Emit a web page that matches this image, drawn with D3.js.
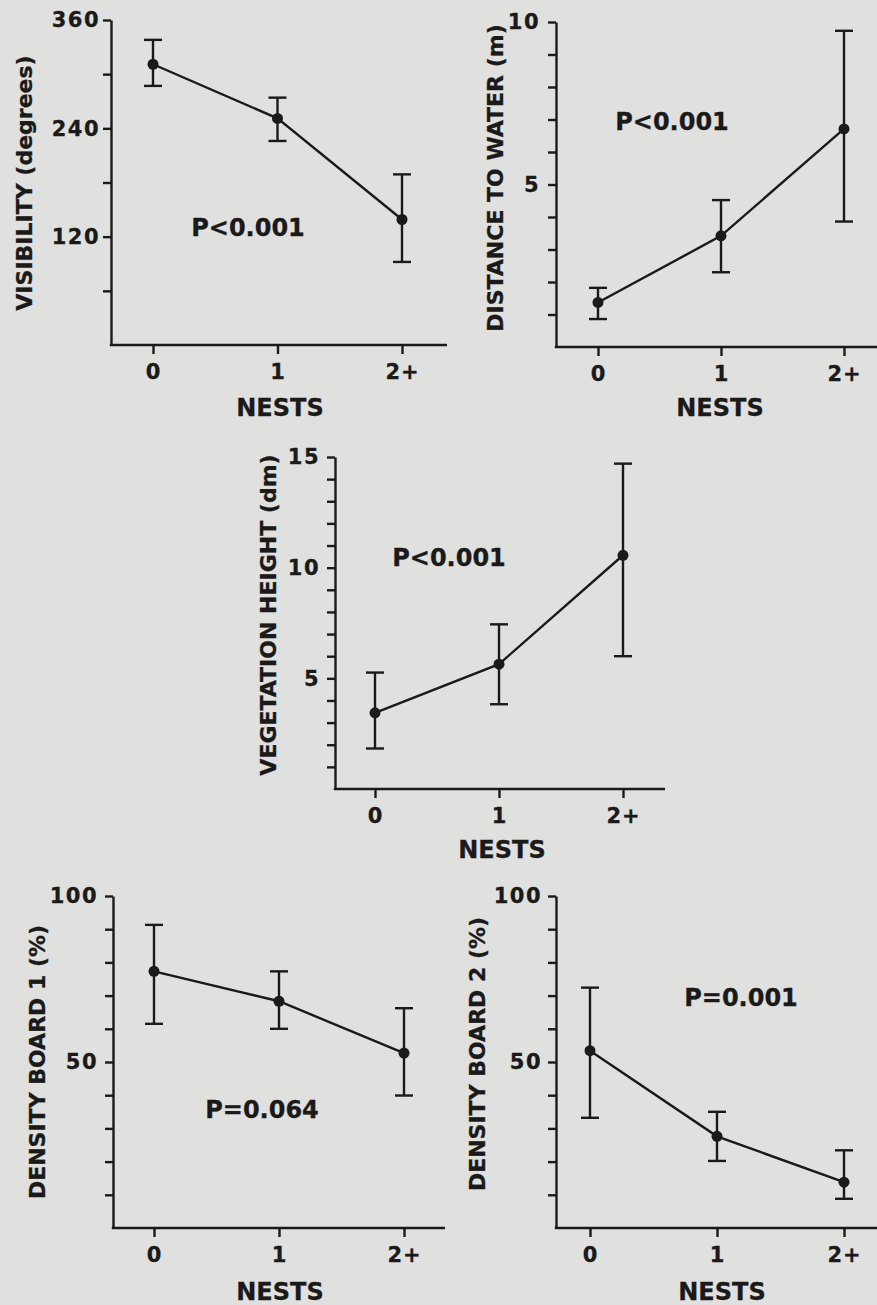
<!DOCTYPE html>
<html>
<head>
<meta charset="utf-8">
<script src="https://cdn.jsdelivr.net/npm/d3@7"></script>
<style>
  body { margin: 0; background: #e0e0df; }
  svg { display: block; }
  text { font-family: "DejaVu Sans", sans-serif; font-weight: bold; fill: #1a1a1a; stroke: #1a1a1a; stroke-width: 0.3px; }
  .tick line, .domain { stroke: #1a1a1a; stroke-width: 2.4; }
</style>
</head>
<body>
<div id="chart"></div>
<script>
// categories on the x axis
const nests = ["0", "1", "2+"];

// visibility (degrees)
const visibilityMean = [311, 251, 139];
const visibilityLow = [287, 226, 92];
const visibilityHigh = [338, 274, 189];

// distance to water (m)
const waterMean = [1.37, 3.42, 6.71];
const waterLow = [0.86, 2.30, 3.86];
const waterHigh = [1.82, 4.52, 9.73];

// vegetation height (dm)
const vegMean = [3.44, 5.64, 10.56];
const vegLow = [1.83, 3.83, 6.0];
const vegHigh = [5.26, 7.44, 14.7];

// density board 1 (%)
const board1Mean = [77.3, 68.3, 52.7];
const board1Low = [61.5, 60.0, 39.9];
const board1High = [91.3, 77.3, 66.2];

// density board 2 (%)
const board2Mean = [53.4, 27.6, 13.8];
const board2Low = [33.2, 20.2, 8.8];
const board2High = [72.4, 35.0, 23.4];

// y tick values and which of them carry a label
const visTicks = [60, 120, 180, 240, 300, 360], visLabels = [120, 240, 360];
const waterTicks = d3.range(1, 11), waterLabels = [5, 10];
const vegTicks = d3.range(1, 16), vegLabels = [5, 10, 15];
const boardTicks = d3.range(10, 101, 10), boardLabels = [50, 100];

const ink = "#1a1a1a";
const W = 877, H = 1305;

const svg = d3.select("#chart").append("svg")
  .attr("width", W).attr("height", H);

svg.append("rect").attr("width", W).attr("height", H).attr("fill", "#e0e0df");

function drawPanel(p) {
  const g = svg.append("g");

  const y = d3.scaleLinear().domain(p.yDomain).range([p.bottom, p.top]);
  const x = d3.scalePoint().domain(nests).range([p.x0, p.x2]);

  // y axis
  const yAxis = d3.axisLeft(y)
    .tickValues(p.ticks)
    .tickSize(8).tickSizeOuter(0).tickPadding(p.tickPad)
    .tickFormat(d => p.labels.includes(d) ? d : "");
  const ya = g.append("g")
    .attr("transform", "translate(" + p.axisX + ",0)")
    .call(yAxis);
  ya.selectAll("text").style("font-size", "21px").style("letter-spacing", "1.5px");

  // x axis
  const xAxis = d3.axisBottom(x).tickSize(9).tickSizeOuter(0).tickPadding(10);
  const xa = g.append("g")
    .attr("transform", "translate(0," + p.bottom + ")")
    .call(xAxis);
  xa.select(".domain").remove();
  xa.selectAll("text").style("font-size", "21px").style("letter-spacing", "1px");
  g.append("line")
    .attr("x1", p.axisX - 1.2).attr("x2", p.axisEnd)
    .attr("y1", p.bottom).attr("y2", p.bottom)
    .attr("stroke", ink).attr("stroke-width", 2.4);

  // error bars
  nests.forEach((n, i) => {
    const cx = x(n);
    g.append("line")
      .attr("x1", cx).attr("x2", cx)
      .attr("y1", y(p.low[i])).attr("y2", y(p.high[i]))
      .attr("stroke", ink).attr("stroke-width", 2.4);
    [p.low[i], p.high[i]].forEach(v => {
      g.append("line")
        .attr("x1", cx - 9).attr("x2", cx + 9)
        .attr("y1", y(v)).attr("y2", y(v))
        .attr("stroke", ink).attr("stroke-width", 2.4);
    });
  });

  // mean line and dots
  const line = d3.line().x((d, i) => x(nests[i])).y(d => y(d));
  g.append("path")
    .attr("d", line(p.mean))
    .attr("fill", "none").attr("stroke", ink).attr("stroke-width", 2.4);
  g.selectAll("circle.dot")
    .data(p.mean)
    .enter()
    .append("circle")
    .attr("class", "dot")
    .attr("cx", (d, i) => x(nests[i]))
    .attr("cy", d => y(d))
    .attr("r", 5.5)
    .attr("fill", ink);

  // y label
  g.append("text")
    .attr("transform", "translate(" + p.yLabelPos[0] + "," + p.yLabelPos[1] + ") rotate(-90)")
    .attr("text-anchor", "middle")
    .attr("dy", "0.35em")
    .style("font-size", "22px")
    .text(p.yLabel);

  // x label
  g.append("text")
    .attr("x", p.xLabelPos[0]).attr("y", p.xLabelPos[1])
    .attr("text-anchor", "middle")
    .attr("dy", "0.35em")
    .style("font-size", "24px")
    .text("NESTS");

  // p value
  g.append("text")
    .attr("x", p.pPos[0]).attr("y", p.pPos[1])
    .attr("text-anchor", "middle")
    .attr("dy", "0.35em")
    .style("font-size", "24px")
    .text(p.pText);
}

drawPanel({
  mean: visibilityMean, low: visibilityLow, high: visibilityHigh,
  yDomain: [0, 360], ticks: visTicks, labels: visLabels, tickPad: 3,
  top: 20, bottom: 345, axisX: 111, axisEnd: 447, x0: 153, x2: 402,
  yLabel: "VISIBILITY (degrees)", yLabelPos: [24, 183],
  xLabelPos: [280, 408], pText: "P<0.001", pPos: [248, 228]
});

drawPanel({
  mean: waterMean, low: waterLow, high: waterHigh,
  yDomain: [0, 10], ticks: waterTicks, labels: waterLabels, tickPad: 8,
  top: 22, bottom: 347, axisX: 556, axisEnd: 877, x0: 598, x2: 844,
  yLabel: "DISTANCE TO WATER (m)", yLabelPos: [495, 178],
  xLabelPos: [720, 408], pText: "P<0.001", pPos: [672, 122]
});

drawPanel({
  mean: vegMean, low: vegLow, high: vegHigh,
  yDomain: [0, 15], ticks: vegTicks, labels: vegLabels, tickPad: 7,
  top: 457, bottom: 789, axisX: 335, axisEnd: 665, x0: 375, x2: 623,
  yLabel: "VEGETATION HEIGHT (dm)", yLabelPos: [268, 615],
  xLabelPos: [502, 850], pText: "P<0.001", pPos: [449, 558]
});

drawPanel({
  mean: board1Mean, low: board1Low, high: board1High,
  yDomain: [0, 100], ticks: boardTicks, labels: boardLabels, tickPad: 7,
  top: 896, bottom: 1228, axisX: 113, axisEnd: 445, x0: 154, x2: 404,
  yLabel: "DENSITY BOARD 1 (%)", yLabelPos: [37, 1062],
  xLabelPos: [280, 1292], pText: "P=0.064", pPos: [262, 1110]
});

drawPanel({
  mean: board2Mean, low: board2Low, high: board2High,
  yDomain: [0, 100], ticks: boardTicks, labels: boardLabels, tickPad: 6,
  top: 896, bottom: 1228, axisX: 556, axisEnd: 877, x0: 590, x2: 844,
  yLabel: "DENSITY BOARD 2 (%)", yLabelPos: [477, 1054],
  xLabelPos: [722, 1292], pText: "P=0.001", pPos: [741, 998]
});
</script>
</body>
</html>
